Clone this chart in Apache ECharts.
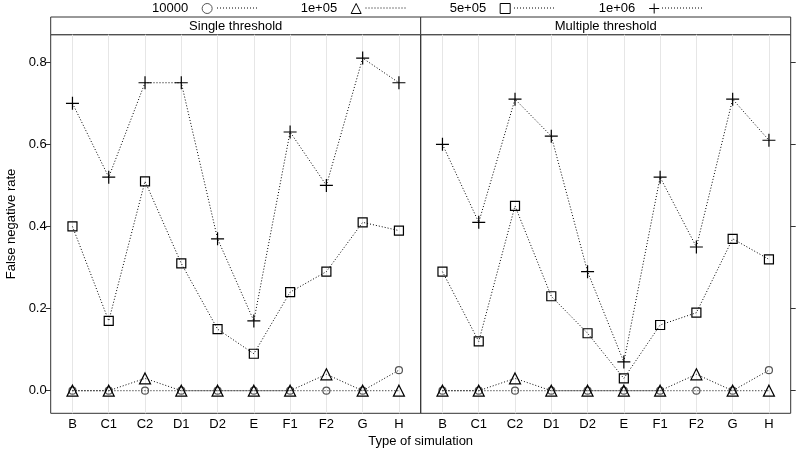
<!DOCTYPE html>
<html>
<head>
<meta charset="utf-8">
<script src="https://cdn.jsdelivr.net/npm/echarts@6/dist/echarts.min.js"></script>
<style>html,body{margin:0;padding:0;background:#fff}#c{width:798px;height:454px}</style>
</head>
<body>
<div id="c"></div>
<script>
const categories = ['B','C1','C2','D1','D2','E','F1','F2','G','H'];
const panels = ['Single threshold', 'Multiple threshold'];
const groups = ['10000', '1e+05', '5e+05', '1e+06'];
const yTicks = [0, 0.2, 0.4, 0.6, 0.8];

const single_10000 = [0, 0, 0, 0, 0, 0, 0, 0, 0, 0.05];
const single_1e05  = [0, 0, 0.03, 0, 0, 0, 0, 0.04, 0, 0];
const single_5e05  = [0.40, 0.17, 0.51, 0.31, 0.15, 0.09, 0.24, 0.29, 0.41, 0.39];
const single_1e06  = [0.70, 0.52, 0.75, 0.75, 0.37, 0.17, 0.63, 0.50, 0.81, 0.75];

const multiple_10000 = [0, 0, 0, 0, 0, 0, 0, 0, 0, 0.05];
const multiple_1e05  = [0, 0, 0.03, 0, 0, 0, 0, 0.04, 0, 0];
const multiple_5e05  = [0.29, 0.12, 0.45, 0.23, 0.14, 0.03, 0.16, 0.19, 0.37, 0.32];
const multiple_1e06  = [0.60, 0.41, 0.71, 0.62, 0.29, 0.07, 0.52, 0.35, 0.71, 0.61];

const panelData = [
  [single_10000, single_1e05, single_5e05, single_1e06],
  [multiple_10000, multiple_1e05, multiple_5e05, multiple_1e06]
];

const PLUS = 'path://M0,5L10,5M5,0L5,10';
const symbols = ['circle', 'triangle', 'rect', PLUS];
const sizes = [7, 11, 9, 13];
const symColors = ['#555', '#000', '#000', '#000'];
const FONT = 'Liberation Sans, Arial, sans-serif';
const FS = 13;

const chart = echarts.init(document.getElementById('c'), null, {renderer: 'canvas'});

const gridL = [50.7, 420.7];
const gridW = 370;
const gridTop = 34.7, gridBottomY = 413.3;

const grids = gridL.map(l => ({
  left: l, width: gridW, top: gridTop, height: gridBottomY - gridTop,
  show: true, borderColor: '#333', borderWidth: 1, backgroundColor: 'transparent'
}));

const catIdx = categories.map((c, i) => i + 1);

const xAxes = [0, 1].map(g => ({
  type: 'value', gridIndex: g, min: 0.4, max: 10.6,
  axisLine: {show: false},
  axisTick: {show: false, customValues: catIdx},
  axisLabel: {customValues: catIdx, formatter: v => categories[Math.round(v) - 1] || '',
              color: '#000', fontSize: FS, fontFamily: FONT, margin: 5},
  splitLine: {show: true, lineStyle: {color: '#e6e6e6', width: 1}}
}));

const yAxes = [0, 1].map(g => ({
  type: 'value', gridIndex: g, min: -0.055, max: 0.867,
  position: g === 0 ? 'left' : 'right',
  axisLine: {show: false},
  axisTick: {show: true, inside: false, length: 5, customValues: yTicks, lineStyle: {color: '#333'}},
  axisLabel: {show: g === 0, customValues: yTicks, formatter: v => v.toFixed(1),
              color: '#000', fontSize: FS, fontFamily: FONT, margin: 4},
  splitLine: {show: false},
  name: g === 0 ? 'False negative rate' : '',
  nameLocation: 'middle', nameGap: 33, nameRotate: 90,
  nameTextStyle: {color: '#000', fontSize: FS, fontFamily: FONT}
}));

const series = [];
panelData.forEach((arrs, g) => {
  arrs.forEach((vals, k) => {
    series.push({
      type: 'line', name: groups[k], xAxisIndex: g, yAxisIndex: g,
      data: vals.map((v, i) => [i + 1, v]),
      symbol: symbols[k], symbolSize: sizes[k], showAllSymbol: true,
      lineStyle: {color: '#000', width: 1, type: [1, 2]},
      itemStyle: {color: 'transparent', borderColor: symColors[k], borderWidth: 1.2},
      emphasis: {disabled: true},
      animation: false, z: 2 + k
    });
  });
});

const graphic = [];
panels.forEach((p, g) => {
  graphic.push({type: 'rect', shape: {x: gridL[g], y: 17, width: gridW, height: gridTop - 17},
    style: {fill: '#fff', stroke: '#333', lineWidth: 1}});
  graphic.push({type: 'text', x: gridL[g] + gridW / 2, y: 26,
    style: {text: p, fill: '#000', font: FS + 'px ' + FONT, align: 'center', verticalAlign: 'middle'}});
});
const legendIconX = [207, 355.5, 504, 652];
legendIconX.forEach(x => {
  graphic.push({type: 'line', shape: {x1: x + 10, y1: 8, x2: x + 50, y2: 8},
    style: {stroke: '#000', lineWidth: 1, lineDash: [1, 2]}});
});
graphic.push({type: 'text', x: 420.7, y: 441,
  style: {text: 'Type of simulation', fill: '#000', font: FS + 'px ' + FONT, align: 'center', verticalAlign: 'middle'}});

chart.setOption({
  animation: false,
  backgroundColor: '#fff',
  textStyle: {fontFamily: FONT},
  legend: {
    top: -3, left: 147, align: 'right', itemWidth: 10, itemHeight: 10, itemGap: 88,
    data: groups.map((n, k) => ({name: n, icon: symbols[k],
      itemStyle: {color: 'transparent', borderColor: symColors[k], borderWidth: 1}})),
    formatter: name => name + '{s|}',
    textStyle: {color: '#000', fontSize: FS, fontFamily: FONT,
                rich: {s: {width: 9}}},
    selectedMode: false
  },
  grid: grids,
  xAxis: xAxes,
  yAxis: yAxes,
  series: series,
  graphic: graphic
});
</script>
</body>
</html>
